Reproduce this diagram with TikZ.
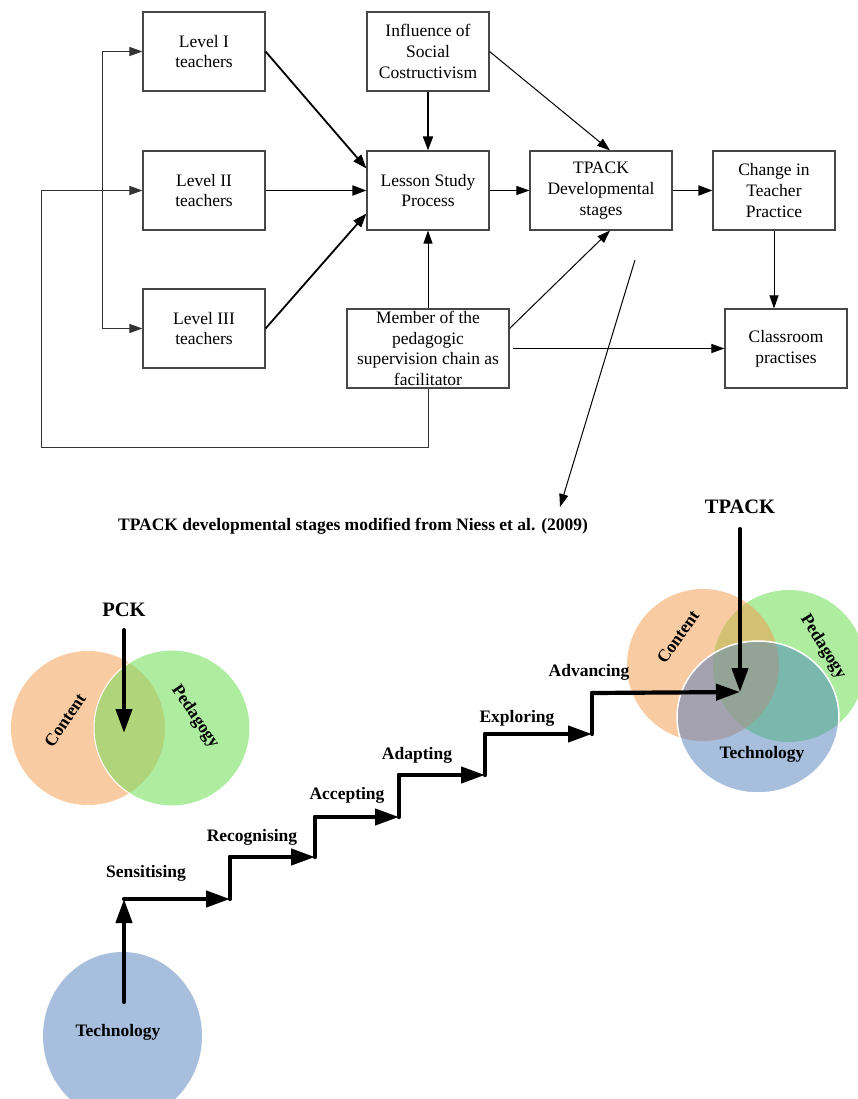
\documentclass[tikz,border=0pt]{standalone}
\usepackage{fontspec}
\setmainfont{Liberation Serif}
\usetikzlibrary{arrows.meta}
\definecolor{corange}{RGB}{248,203,162}
\definecolor{cgreen}{RGB}{174,236,160}
\definecolor{cblue}{RGB}{167,191,221}
\definecolor{colive}{RGB}{176,212,121}
\definecolor{cmust}{RGB}{212,192,115}
\definecolor{cpurp}{RGB}{165,162,175}
\definecolor{cteal}{RGB}{122,184,174}
\definecolor{cmid}{RGB}{147,163,150}
\begin{document}
\begin{tikzpicture}[x=1pt,y=-1pt,
  box/.style={draw=black!72, line width=1.1pt, rectangle, inner sep=0pt, align=center,
              font=\fontsize{17.5}{20.7}\selectfont, minimum width=122pt, minimum height=79pt},
  arr/.style={-{Triangle[length=13pt,width=9pt]}, line width=1pt},
  arrthick/.style={-{Triangle[length=14pt,width=10pt]}, line width=1.8pt},
  thinline/.style={line width=1pt, draw=black!80},
  stair/.style={line width=4.2pt, line cap=round, line join=miter},
  stairarr/.style={line width=4.2pt, line cap=round, -{Triangle[length=24pt,width=16pt]}},
  lab/.style={font=\bfseries\fontsize{17.5}{20}\selectfont, inner sep=0pt},
  biglab/.style={font=\bfseries\fontsize{20.5}{24}\selectfont, inner sep=0pt}
]
\useasboundingbox (0,0) rectangle (857,1099);

% ---------------- flowchart ----------------
\node[box] (l1) at (204,51.5) {Level I\\teachers};
\node[box] (l2) at (204,190.5) {Level II\\teachers};
\node[box] (l3) at (204,328.5) {Level III\\teachers};
\node[box] (inf) at (428,51.5) {Influence of\\Social\\Costructivism};
\node[box] (ls) at (428,190.5) {Lesson Study\\Process};
\node[box, minimum width=142pt] (tp) at (601,190.5) {TPACK\\Developmental\\stages};
\node[box] (ch) at (774,190.5) {Change in\\Teacher\\Practice};
\node[box] (cl) at (786,348.5) {Classroom\\practises};
\node[box, minimum width=162pt, font=\fontsize{17.5}{20.5}\selectfont] (mem) at (428,348.5) {Member of the\\pedagogic\\supervision chain as\\facilitator};

\coordinate (br) at (102,190);
\coordinate (fb) at (41,447);
\coordinate (la1) at (635,260);
\coordinate (la2) at (560,507);

\draw[thinline] (br |- l1.west) -- (br |- l3.west);
\draw[arr, draw=black!80] (br |- l1.west) -- (l1.west);
\draw[arr, draw=black!80] (br |- l3.west) -- (l3.west);
\draw[arr, draw=black!80] (mem.south) |- (fb) |- (l2.west);

\draw[arrthick] (l1.east) -- ([yshift=22pt]ls.west);
\draw[arrthick] (l2.east) -- (ls.west);
\draw[arrthick] (l3.east) -- ([yshift=-23pt]ls.west);
\draw[arrthick] (inf.south) -- (ls.north);
\draw[arr] (mem.north) -- (ls.south);
\draw[arr] (ls.east) -- (tp.west);
\draw[arrthick] (tp.east) -- (ch.west);
\draw[arr] (inf.east) -- ([xshift=9pt]tp.north);
\draw[arr] ([yshift=20pt]mem.east) -- ([xshift=9pt]tp.south);
\draw[arr] ([xshift=3pt]mem.east) -- (cl.west);
\draw[arr] (ch.south) -- (ch.south |- cl.north);
\draw[arr] (la1) -- (la2);

\node[lab] (title) at (353,526) {TPACK developmental stages modified from Niess et al. (2009)};

% ---------------- left Venn (PCK) ----------------
\fill[corange] (88,728) circle (77);
\fill[cgreen] (172,728) circle (78);
\begin{scope}
  \clip (88,728) circle (77);
  \fill[colive] (172,728) circle (78);
\end{scope}
\draw[white, line width=1pt] (172,728) circle (78);
\node[lab, rotate=56] (c1) at (65,720) {Content};
\node[lab, rotate=-56] (p1) at (195,717) {Pedagogy};
\node[biglab] (pck) at (124,610) {PCK};
\coordinate (pckt) at (124,733);
\draw[stairarr] ([yshift=-13pt]pck.south) -- (pckt);

% ---------------- bottom Technology circle ----------------
\fill[cblue] (122.5,1036) ellipse [x radius=79.5, y radius=84];
\node[lab] (t0) at (118,1032) {Technology};

% ---------------- right Venn (TPACK) ----------------
\fill[corange] (703,665) circle (76);
\fill[cgreen] (789,666) circle (76);
\begin{scope}
  \clip (703,665) circle (76);
  \fill[cmust] (789,666) circle (76);
\end{scope}
\fill[cblue] (758,717) ellipse [x radius=81, y radius=76];
\begin{scope}
  \clip (758,717) ellipse [x radius=81, y radius=76];
  \fill[cpurp] (703,665) circle (76);
  \fill[cteal] (789,666) circle (76);
  \clip (703,665) circle (76);
  \fill[cmid] (789,666) circle (76);
\end{scope}
\draw[white, line width=1.5pt] (758,717) ellipse [x radius=81, y radius=76];
\node[lab, rotate=55] (c2) at (678,637) {Content};
\node[lab, rotate=-58] (p2) at (823,647) {Pedagogy};
\node[lab] (t2) at (762,754) {Technology};
\node[biglab] (tpack) at (740,507) {TPACK};
\coordinate (ctr) at (740,692);
\draw[stairarr] ([yshift=-15pt]tpack.south) -- (ctr);

% ---------------- staircase ----------------
\coordinate (s0) at (124,1002);
\coordinate (s1) at (124,899);
\coordinate (s2) at (230,899);
\coordinate (s3) at (230,857);
\coordinate (s4) at (315,857);
\coordinate (s5) at (315,817);
\coordinate (s6) at (399,817);
\coordinate (s7) at (399,775);
\coordinate (s8) at (485,775);
\coordinate (s9) at (485,734);
\coordinate (s10) at (592,734);
\coordinate (s11) at (592,693);

\draw[stairarr] (s0) -- (s1);
\draw[stairarr] (s1) -- (s2);
\draw[stair] (s2) -- (s3);
\draw[stairarr] (s3) -- (s4);
\draw[stair] (s4) -- (s5);
\draw[stairarr] (s5) -- (s6);
\draw[stair] (s6) -- (s7);
\draw[stairarr] (s7) -- (s8);
\draw[stair] (s8) -- (s9);
\draw[stairarr] (s9) -- (s10);
\draw[stair] (s10) -- (s11);
\draw[stairarr] (s11) -- (ctr);

\node[lab] (st1) at (146,873) {Sensitising};
\node[lab] (st2) at (252,837) {Recognising};
\node[lab] (st3) at (347,795) {Accepting};
\node[lab] (st4) at (417,755) {Adapting};
\node[lab] (st5) at (517,718) {Exploring};
\node[lab] (st6) at (589,672) {Advancing};
\end{tikzpicture}
\end{document}
